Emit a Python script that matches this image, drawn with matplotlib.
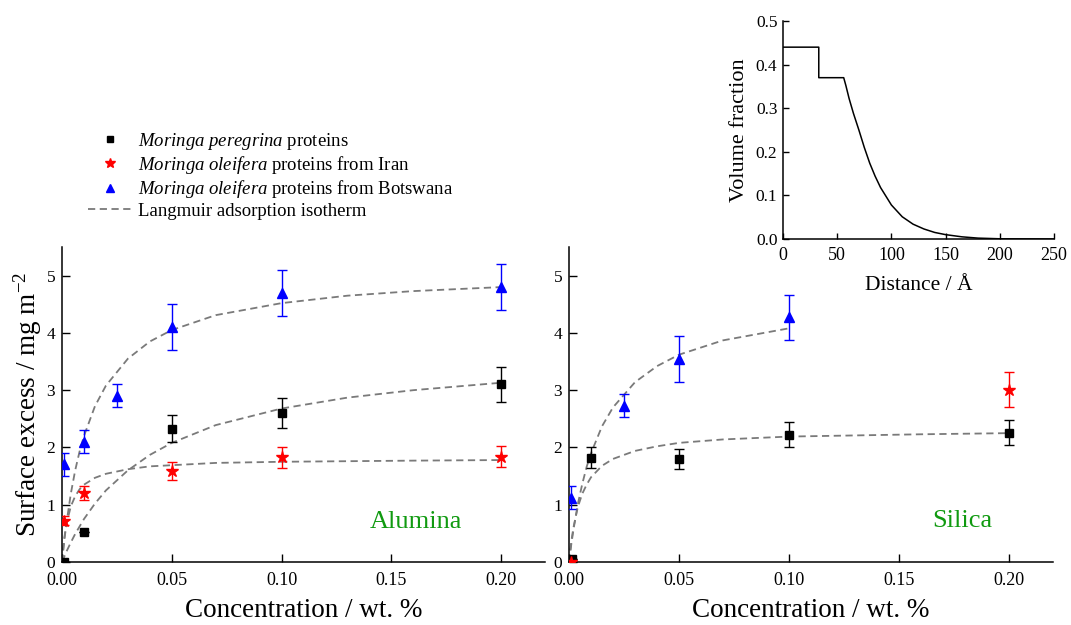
import matplotlib

matplotlib.use("Agg")
import matplotlib.pyplot as plt
from matplotlib.lines import Line2D

plt.rcParams["font.family"] = ["Liberation Serif", "DejaVu Serif"]
plt.rcParams["mathtext.fontset"] = "custom"
plt.rcParams["mathtext.rm"] = "Liberation Serif"
plt.rcParams["mathtext.it"] = "Liberation Serif:italic"

# ---- Alumina (left panel) ----
al_conc_pere = [0.001, 0.01, 0.05, 0.10, 0.20]
al_gam_pere = [0.0, 0.52, 2.33, 2.60, 3.10]
al_err_pere = [0.0, 0.0, 0.24, 0.26, 0.31]

al_conc_iran = [0.001, 0.01, 0.05, 0.10, 0.20]
al_gam_iran = [0.72, 1.21, 1.59, 1.83, 1.84]
al_err_iran = [0.08, 0.12, 0.16, 0.18, 0.18]

al_conc_bots = [0.001, 0.01, 0.025, 0.05, 0.10, 0.20]
al_gam_bots = [1.71, 2.10, 2.90, 4.10, 4.70, 4.80]
al_err_bots = [0.20, 0.20, 0.20, 0.40, 0.40, 0.40]

# ---- Silica (right panel) ----
si_conc_pere = [0.0015, 0.01, 0.05, 0.10, 0.20]
si_gam_pere = [0.06, 1.82, 1.80, 2.22, 2.26]
si_err_pere = [0.0, 0.18, 0.17, 0.22, 0.22]

si_conc_iran = [0.001, 0.20]
si_gam_iran = [0.0, 3.01]
si_err_iran = [0.0, 0.30]

si_conc_bots = [0.001, 0.025, 0.05, 0.10]
si_gam_bots = [1.12, 2.73, 3.55, 4.27]
si_err_bots = [0.20, 0.20, 0.40, 0.40]

# Langmuir curves
fit_conc = [0.0, 0.001, 0.002, 0.004, 0.006, 0.008, 0.01, 0.015, 0.02,
            0.03, 0.04, 0.05, 0.07, 0.10, 0.13, 0.16, 0.20]
al_fit_bots = [0.0, 0.36, 0.67, 1.19, 1.60, 1.93, 2.20, 2.72, 3.08,
               3.55, 3.85, 4.05, 4.31, 4.52, 4.65, 4.73, 4.80]
al_fit_pere = [0.0, 0.09, 0.18, 0.34, 0.49, 0.62, 0.75, 1.02, 1.25,
               1.60, 1.87, 2.08, 2.39, 2.68, 2.87, 3.00, 3.13]
al_fit_iran = [0.0, 0.41, 0.66, 0.97, 1.15, 1.27, 1.35, 1.47, 1.54,
               1.62, 1.67, 1.69, 1.73, 1.75, 1.76, 1.77, 1.78]
si_fit_bots = [0.0, 0.30, 0.56, 1.01, 1.36, 1.66, 1.90, 2.37, 2.70,
               3.14, 3.42, 3.62, 3.87, 4.08]
si_fit_pere = [0.0, 0.35, 0.60, 0.96, 1.19, 1.35, 1.48, 1.68, 1.80,
               1.94, 2.02, 2.08, 2.14, 2.19, 2.21, 2.23, 2.25]

# Inset: volume fraction profile
dist = [0, 33, 33, 56, 58, 61, 65, 70, 75, 80, 85, 90, 100, 110, 120, 130,
        140, 150, 165, 180, 200, 250]
vol_frac = [0.44, 0.44, 0.37, 0.37, 0.352, 0.322, 0.288, 0.25, 0.21, 0.174,
            0.144, 0.118, 0.078, 0.051, 0.034, 0.023, 0.015, 0.010, 0.005,
            0.002, 0.0005, 0.0]

labels = [
    r"$\it{Moringa\ peregrina}$ proteins",
    r"$\it{Moringa\ oleifera}$ proteins from Iran",
    r"$\it{Moringa\ oleifera}$ proteins from Botswana",
    "Langmuir adsorption isotherm",
]

SERIES = [("black", "s", 5.5), ("red", "*", 9), ("blue", "^", 6.5)]
FIT_STYLE = dict(color="#7a7a7a", linestyle=(0, (4, 2.5)), linewidth=1.3)


def _style_axes(ax, xsize, ysize, xpad, ypad, length=6):
    for side in ("top", "right"):
        ax.spines[side].set_visible(False)
    for side in ("left", "bottom"):
        ax.spines[side].set_linewidth(1.1)
    ax.tick_params(direction="in", length=length, width=1.0)
    ax.tick_params(axis="x", labelsize=xsize, pad=xpad)
    ax.tick_params(axis="y", labelsize=ysize, pad=ypad)


def _draw_panel(ax, groups, fits, name, name_xy):
    for (c, g, e), (color, marker, ms) in zip(groups, SERIES):
        ax.errorbar(c, g, yerr=e, fmt=marker, color=color, ecolor=color,
                    markersize=ms, capsize=3.5, elinewidth=1.0, capthick=1.0,
                    linestyle="none", zorder=3)
    for fc, fg in fits:
        ax.plot(fc, fg, zorder=2, **FIT_STYLE)

    ax.set_xlim(0, 0.22)
    ax.set_ylim(0, 5.5)
    ax.set_xticks([0.0, 0.05, 0.10, 0.15, 0.20])
    ax.set_xticklabels(["0.00", "0.05", "0.10", "0.15", "0.20"])
    ax.set_yticks([0, 1, 2, 3, 4, 5])
    ax.set_xlabel("Concentration / wt. %", fontsize=19.5, labelpad=7)
    ax.text(name_xy[0], name_xy[1], name, color="#109a10", fontsize=19,
            ha="center", va="center")
    _style_axes(ax, 13, 12.5, 7, 5)


def main() -> None:
    fig = plt.figure(figsize=(10.71, 6.25), dpi=100)

    ax_l = fig.add_axes([0.0579, 0.1008, 0.4510, 0.5040])
    ax_r = fig.add_axes([0.5313, 0.1008, 0.4519, 0.5040])
    ax_in = fig.add_axes([0.7311, 0.6176, 0.2530, 0.3488])

    _draw_panel(
        ax_l,
        [(al_conc_pere, al_gam_pere, al_err_pere),
         (al_conc_iran, al_gam_iran, al_err_iran),
         (al_conc_bots, al_gam_bots, al_err_bots)],
        [(fit_conc, al_fit_bots), (fit_conc, al_fit_pere), (fit_conc, al_fit_iran)],
        "Alumina", (0.161, 0.70),
    )
    _draw_panel(
        ax_r,
        [(si_conc_pere, si_gam_pere, si_err_pere),
         (si_conc_iran, si_gam_iran, si_err_iran),
         (si_conc_bots, si_gam_bots, si_err_bots)],
        [(fit_conc[:len(si_fit_bots)], si_fit_bots), (fit_conc, si_fit_pere)],
        "Silica", (0.179, 0.72),
    )
    ax_l.set_ylabel(r"Surface excess / mg m$^{-2}$", fontsize=19.5, labelpad=1.5)

    ax_in.plot(dist, vol_frac, color="black", linewidth=1.1)
    ax_in.set_xlim(0, 250)
    ax_in.set_ylim(0, 0.5)
    ax_in.set_xticks([0, 50, 100, 150, 200, 250])
    ax_in.set_yticks([0.0, 0.1, 0.2, 0.3, 0.4, 0.5])
    ax_in.set_yticklabels(["0.0", "0.1", "0.2", "0.3", "0.4", "0.5"])
    ax_in.set_xlabel("Distance / Å", fontsize=15.5, labelpad=9)
    ax_in.set_ylabel("Volume fraction", fontsize=16, labelpad=5)
    _style_axes(ax_in, 13, 12.5, 5.5, 4, length=4)

    handles = [Line2D([], [], color=c, marker=m, markersize=ms * 0.8, linestyle="none")
               for c, m, ms in SERIES]
    handles.append(Line2D([], [], **FIT_STYLE))
    fig.legend(handles, labels, loc="upper left", bbox_to_anchor=(0.082, 0.791),
               frameon=False, fontsize=13.5, handlelength=2.4, handletextpad=0.25,
               labelspacing=0.12, borderpad=0, borderaxespad=0)

    fig.savefig("out.png", dpi=100)
    plt.close(fig)


if __name__ == "__main__":
    main()
